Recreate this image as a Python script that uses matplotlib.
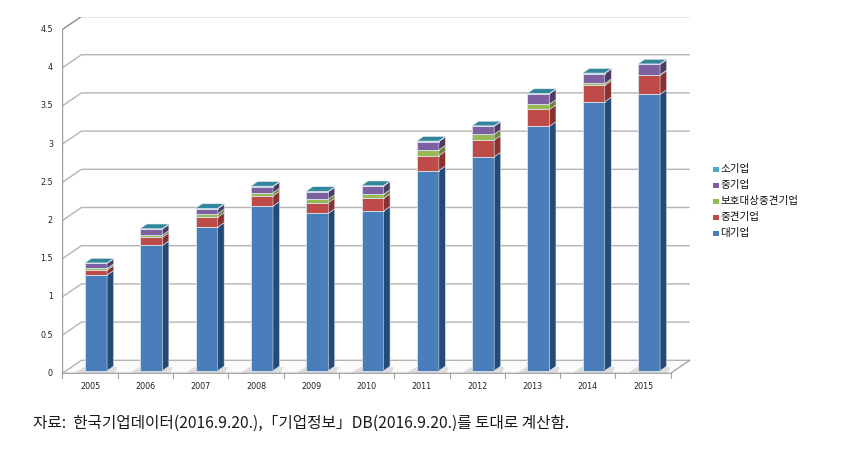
import matplotlib
matplotlib.use("Agg")
import matplotlib.pyplot as plt
from matplotlib.patches import Polygon, Rectangle
import numpy as np

years = ["2005", "2006", "2007", "2008", "2009", "2010", "2011", "2012", "2013", "2014", "2015"]
series_names = ["대기업", "중견기업", "보호대상중견기업", "중기업", "소기업"]
large = [1.253, 1.640, 1.880, 2.155, 2.060, 2.090, 2.620, 2.800, 3.200, 3.520, 3.618]
midsize = [0.065, 0.106, 0.130, 0.135, 0.140, 0.167, 0.195, 0.220, 0.220, 0.215, 0.250]
protected_mid = [0.022, 0.030, 0.045, 0.040, 0.045, 0.053, 0.075, 0.075, 0.070, 0.025, 0.006]
medium = [0.065, 0.079, 0.065, 0.080, 0.098, 0.108, 0.110, 0.105, 0.135, 0.130, 0.136]
small = [0.006, 0.006, 0.006, 0.006, 0.006, 0.006, 0.006, 0.006, 0.006, 0.006, 0.006]
yticks = [0, 0.5, 1, 1.5, 2, 2.5, 3, 3.5, 4, 4.5]
caption = "자료:  한국기업데이터(2016.9.20.),「기업정보」DB(2016.9.20.)를 토대로 계산함."

front_colors = ["#4A7EBB", "#BE4B48", "#98B954", "#7D60A0", "#4BACC6"]
side_colors = ["#244A78", "#8A3230", "#6A8538", "#4D3B66", "#2F7F93"]
top_colors = ["#6E98CC", "#D06A67", "#B2CE78", "#9A80B8", "#31869B"]

W, H = 849, 459
fig = plt.figure(figsize=(W / 100, H / 100), dpi=100)

# pixel geometry
x0_px, cat_px = 62.4, 55.3
y0_px, unit_px = 373.3, 76.4
wall_dx, wall_dy = 0.344, 0.170   # depth of plot (cat units, value units)
n = len(years)
xmin, xmax = -0.5, n - 0.5 + wall_dx
ymax = 4.5 + wall_dy
left = x0_px / W
width = (xmax - xmin) * cat_px / W
bottom = 1 - y0_px / H
height = ymax * unit_px / H
ax = fig.add_axes([left, bottom, width, height])
ax.set_xlim(xmin, xmax)
ax.set_ylim(0, ymax)
ax.axis("off")

grid_c = "#B4B4B4"
# floor
floor = Polygon([(xmin, 0), (n - 0.5, 0), (n - 0.5 + wall_dx, wall_dy), (xmin + wall_dx, wall_dy)],
                closed=True, facecolor="#FBFBFB", edgecolor="none", zorder=0)
ax.add_patch(floor)
# gridlines: left wall diagonal + back wall horizontal
for v in yticks:
    c = "#8C8C8C" if v == 4.5 else grid_c
    ax.plot([xmin, xmin + wall_dx, xmax], [v, v + wall_dy, v + wall_dy], color=c, lw=1.0,
            zorder=1, solid_capstyle="butt")
# floor edges
ax.plot([xmin, n - 0.5, n - 0.5 + wall_dx], [0, 0, wall_dy], color="#A8A8A8", lw=1.0, zorder=6, clip_on=False)
# front y axis
ax.plot([xmin, xmin], [0, 4.5], color="#A0A0A0", lw=1.0, zorder=6)
# x tick marks at category boundaries
for b in np.arange(-0.5, n + 0.5, 1.0):
    ax.plot([b, b], [0, -0.06], color="#A0A0A0", lw=0.8, clip_on=False, zorder=6)

# y tick labels
for v in yticks:
    ax.text(xmin - 0.17, v, f"{v:g}", ha="right", va="center", fontsize=5.8, color="#222222",
            family="DejaVu Sans")
# x labels
for i, yr in enumerate(years):
    ax.text(i, -0.17, yr, ha="center", va="center", fontsize=5.8, color="#222222",
            family="DejaVu Sans", clip_on=False)

# bar geometry
bar_w = 22.0 / cat_px
bar_shift = 6.0 / cat_px
bar_base = 2.6 / unit_px
bdx = 6.5 / cat_px
bdy = 4.5 / unit_px

data = [large, midsize, protected_mid, medium, small]
xs = np.arange(n) + bar_shift

# shadows on floor
for x in xs:
    sh = Polygon([(x - bar_w * 0.95, bar_base * 0.2), (x + bar_w / 2 + bdx * 1.2, bar_base * 0.2),
                  (x + bar_w / 2 + bdx * 1.6, bar_base + bdy * 0.8), (x - bar_w * 0.55, bar_base + bdy * 0.8)],
                 closed=True, facecolor="#D6D6D6", edgecolor="none", alpha=0.8, zorder=2)
    ax.add_patch(sh)

bottoms = np.full(n, bar_base)
z = 3
for k, vals in enumerate(data):
    vals = np.array(vals)
    bars = ax.bar(xs, vals, width=bar_w, bottom=bottoms, color=front_colors[k],
                  edgecolor="#D8E2EE", linewidth=0.6, zorder=z + 2 * k + 1)
    for i, rect in enumerate(bars):
        xl = rect.get_x()
        xr = xl + rect.get_width()
        yb = rect.get_y()
        yt = yb + rect.get_height()
        side = Polygon([(xr, yb), (xr + bdx, yb + bdy), (xr + bdx, yt + bdy), (xr, yt)], closed=True,
                       facecolor=side_colors[k], edgecolor="#D8DCE4", linewidth=0.4, zorder=z + 2 * k + 1)
        ax.add_patch(side)
        top = Polygon([(xl, yt), (xr, yt), (xr + bdx, yt + bdy), (xl + bdx, yt + bdy)], closed=True,
                      facecolor=top_colors[k], edgecolor="#E6EAF0", linewidth=0.4, zorder=z + 2 * k + 1.5)
        ax.add_patch(top)
    bottoms = bottoms + vals

# legend (manual, top to bottom reversed)
leg_y0 = 169
for j, k in enumerate(range(len(series_names) - 1, -1, -1)):
    yy = leg_y0 + j * 16.0
    fig.patches.append(Rectangle(((712.5) / W, 1 - (yy + 3) / H), 6 / W, 5 / H,
                                 transform=fig.transFigure, facecolor=front_colors[k], edgecolor="none"))
    fig.text(720.5 / W, 1 - yy / H, series_names[k], ha="left", va="center", fontsize=7.6,
             family=["Noto Sans CJK KR", "DejaVu Sans"], color="#111111")

# caption
fig.text(33 / W, 1 - 423 / H, caption, ha="left", va="center", fontsize=11.3,
         family=["Noto Sans CJK KR", "DejaVu Sans"], color="#1A1A1A")

fig.savefig("out.png", dpi=100)
